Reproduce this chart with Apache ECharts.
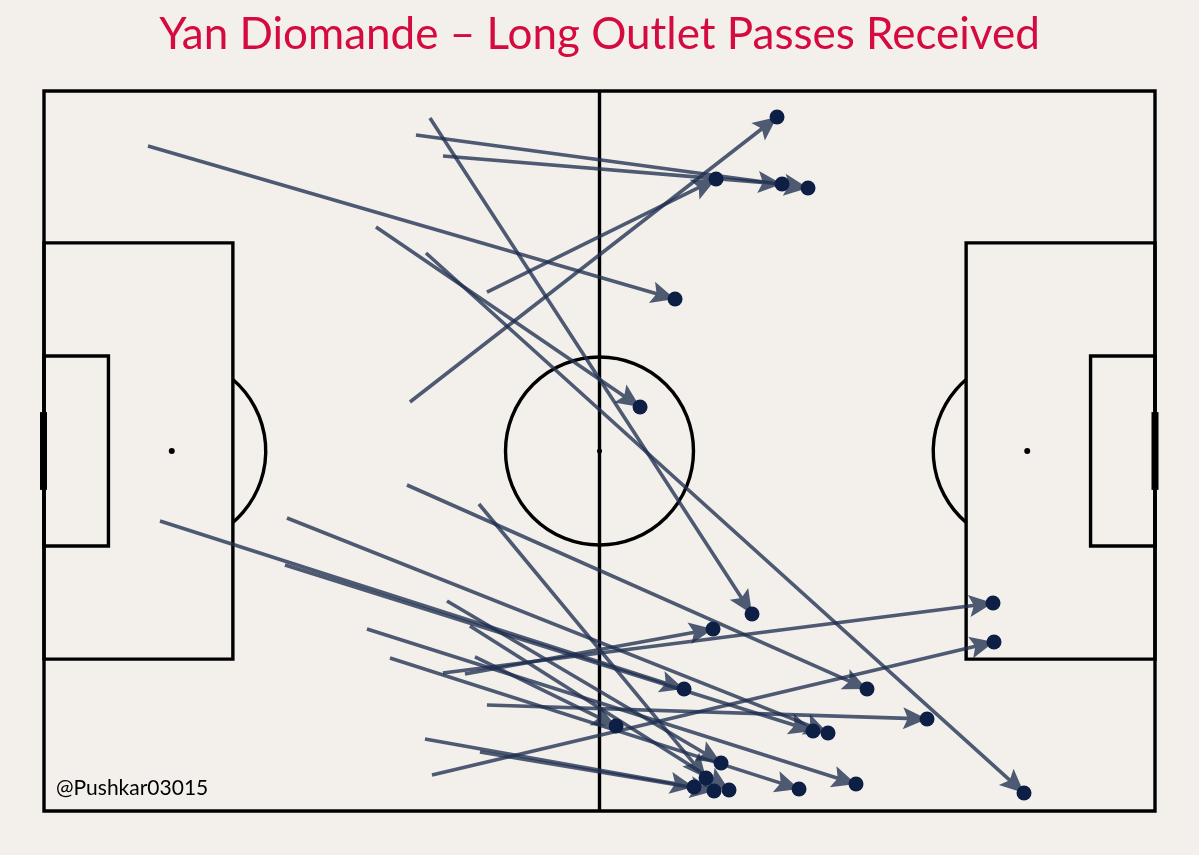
<!DOCTYPE html>
<html>
<head>
<meta charset="utf-8">
<script src="https://cdn.jsdelivr.net/npm/echarts@6/dist/echarts.min.js"></script>
<style>
html,body{margin:0;padding:0;background:#f3f0ec;}
#chart{width:1199px;height:855px;}
</style>
</head>
<body>
<div id="chart"></div>
<script>
// Opta pitch coordinates (0-100 both axes, y measured from bottom touchline)
const startX = [9.36, 33.48, 35.91, 39.87, 32.94, 29.88, 34.74, 34.38,
                10.44, 21.87, 21.69, 36.27, 29.07, 38.34, 31.14, 38.79,
                35.91, 37.89, 39.87, 34.29, 39.24, 34.92, 39.15, 32.67];
const startY = [92.36, 93.89, 90.97, 72.08, 56.81, 81.11, 96.25, 77.50,
                40.28, 40.69, 34.17, 29.17, 25.28, 25.69, 21.25, 21.39,
                19.17, 19.03, 14.72, 10.00, 8.19, 5.00, 42.64, 45.28];
const endX   = [56.80, 68.77, 66.43, 60.49, 65.98, 53.65, 63.73, 88.21,
                57.61, 70.57, 69.22, 60.94, 73.09, 61.66, 67.96, 51.49,
                85.42, 60.22, 79.48, 58.51, 60.31, 85.51, 59.59, 74.08];
const endY   = [71.11, 86.53, 87.08, 87.78, 96.39, 56.11, 27.36, 2.50,
                16.94, 10.83, 11.11, 6.67, 3.75, 2.92, 3.06, 11.81,
                28.89, 25.28, 12.78, 3.33, 2.78, 23.47, 4.58, 16.94];

const titleText = 'Yan Diomande – Long Outlet Passes Received';
const creditText = '@Pushkar03015';

const passes = startX.map((v, i) => [v, startY[i], endX[i], endY[i]]);
const receptions = endX.map((v, i) => [v, endY[i]]);

const chart = echarts.init(document.getElementById('chart'), null, {renderer: 'canvas'});

const LINE = '#000000';
const LW = 3.4;

function pitchRender(params, api) {
  const c = (x, y) => api.coord([x, y]);
  const children = [];
  const st = {stroke: LINE, lineWidth: LW, fill: null};
  function rect(x0, y0, x1, y1) {
    const a = c(x0, y0), b = c(x1, y1);
    children.push({type: 'rect', shape: {x: Math.min(a[0], b[0]), y: Math.min(a[1], b[1]),
      width: Math.abs(b[0] - a[0]), height: Math.abs(b[1] - a[1])}, style: st});
  }
  function line(x0, y0, x1, y1, w) {
    const a = c(x0, y0), b = c(x1, y1);
    children.push({type: 'line', shape: {x1: a[0], y1: a[1], x2: b[0], y2: b[1]},
      style: {stroke: LINE, lineWidth: w || LW}});
  }
  function spot(x, y, r) {
    const a = c(x, y);
    children.push({type: 'circle', shape: {cx: a[0], cy: a[1], r: r}, style: {fill: LINE}});
  }
  rect(0, 0, 100, 100);
  line(50, 0, 50, 100);
  // penalty areas
  rect(0, 21.1, 17, 78.9);
  rect(83, 21.1, 100, 78.9);
  // six-yard boxes
  rect(0, 36.8, 5.8, 63.2);
  rect(94.2, 36.8, 100, 63.2);
  // goals
  const g0 = c(0, 44.6), g1 = c(0, 55.4);
  children.push({type: 'line', shape: {x1: g0[0] - 0.5, y1: g0[1], x2: g1[0] - 0.5, y2: g1[1]}, style: {stroke: LINE, lineWidth: 7}});
  const g2 = c(100, 44.6), g3 = c(100, 55.4);
  children.push({type: 'line', shape: {x1: g2[0], y1: g2[1], x2: g3[0], y2: g3[1]}, style: {stroke: LINE, lineWidth: 7}});
  // centre circle
  const r = api.size([8.46, 0])[0];
  const cc = c(50, 50);
  children.push({type: 'circle', shape: {cx: cc[0], cy: cc[1], r: r}, style: st});
  spot(50, 50, 2.5);
  spot(11.5, 50, 3);
  spot(88.5, 50, 3);
  // penalty arcs
  const d = api.size([17 - 11.5, 0])[0];
  const ang = Math.acos(d / r);
  const p1 = c(11.5, 50), p2 = c(88.5, 50);
  children.push({type: 'arc', shape: {cx: p1[0], cy: p1[1], r: r, startAngle: -ang, endAngle: ang}, style: st});
  children.push({type: 'arc', shape: {cx: p2[0], cy: p2[1], r: r, startAngle: Math.PI - ang, endAngle: Math.PI + ang}, style: st});
  return {type: 'group', children: children};
}

const ARROW = 'rgba(31,46,80,0.78)';
function arrowRender(params, api) {
  const a = api.coord([api.value(0), api.value(1)]);
  const b = api.coord([api.value(2), api.value(3)]);
  const dx = b[0] - a[0], dy = b[1] - a[1];
  const len = Math.sqrt(dx * dx + dy * dy);
  const ux = dx / len, uy = dy / len;
  const nx = -uy, ny = ux;
  const HL = 24, HW = 11, NOTCH = 20, SW = 1.8;
  const back = [b[0] - ux * HL, b[1] - uy * HL];
  const notch = [b[0] - ux * NOTCH, b[1] - uy * NOTCH];
  const pts = [
    [b[0], b[1]],
    [back[0] + nx * HW, back[1] + ny * HW],
    [notch[0] + nx * SW, notch[1] + ny * SW],
    [a[0] + nx * SW, a[1] + ny * SW],
    [a[0] - nx * SW, a[1] - ny * SW],
    [notch[0] - nx * SW, notch[1] - ny * SW],
    [back[0] - nx * HW, back[1] - ny * HW]
  ];
  return {type: 'polygon', shape: {points: pts}, style: {fill: ARROW}};
}

chart.setOption({
  backgroundColor: '#f3f0ec',
  animation: false,
  title: {
    text: titleText,
    left: 'center',
    top: 8,
    textStyle: {color: '#d50a3e', fontSize: 44, fontWeight: 'normal', fontFamily: 'Lato'}
  },
  grid: {left: 44, right: 44, top: 91, bottom: 44},
  xAxis: {type: 'value', min: 0, max: 100, show: false},
  yAxis: {type: 'value', min: 0, max: 100, show: false},
  graphic: [{
    type: 'text', left: 56, top: 778,
    style: {text: creditText, fill: '#000', fontSize: 21, fontFamily: 'Lato'}
  }],
  series: [
    {type: 'custom', renderItem: pitchRender, data: [[0, 0]], z: 1, silent: true, clip: false},
    {type: 'custom', renderItem: arrowRender, data: passes, z: 2, silent: true,
     encode: {x: [0, 2], y: [1, 3]}},
    {type: 'scatter', data: receptions, symbolSize: 15, z: 3,
     itemStyle: {color: '#0e1f46', opacity: 1}}
  ]
});
</script>
</body>
</html>
